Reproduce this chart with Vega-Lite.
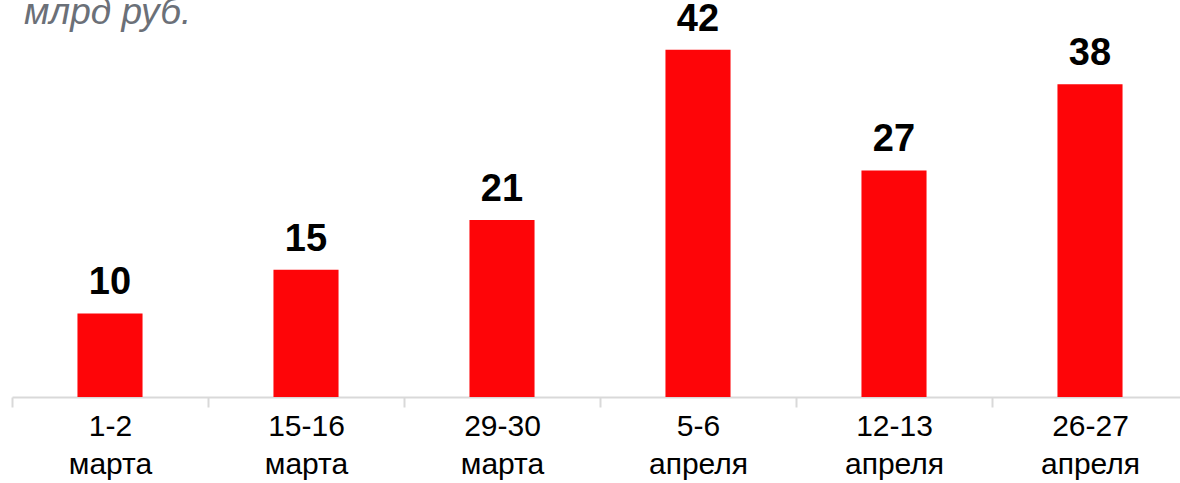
{
  "$schema": "https://vega.github.io/schema/vega-lite/v6.json",
  "width": 1176,
  "height": 397,
  "autosize": {"type": "none"},
  "padding": {"left": 12, "top": 0, "right": 0, "bottom": 86},
  "background": "white",
  "title": {
    "text": "млрд руб.",
    "anchor": "start",
    "frame": "group",
    "orient": "top",
    "baseline": "alphabetic",
    "offset": -61,
    "dx": 12,
    "font": "Liberation Sans",
    "fontSize": 37,
    "fontStyle": "italic",
    "fontWeight": "normal",
    "color": "#6B7078"
  },
  "data": {
    "values": [
      {"period": "1-2 марта", "value": 10.1},
      {"period": "15-16 марта", "value": 15.4},
      {"period": "29-30 марта", "value": 21.4},
      {"period": "5-6 апреля", "value": 42.0},
      {"period": "12-13 апреля", "value": 27.4},
      {"period": "26-27 апреля", "value": 37.8}
    ]
  },
  "config": {
    "view": {"stroke": null},
    "font": "Liberation Sans"
  },
  "encoding": {
    "x": {
      "field": "period",
      "type": "nominal",
      "sort": null,
      "scale": {"paddingInner": 0, "paddingOuter": 0},
      "axis": {
        "title": null,
        "labelAngle": 0,
        "labelExpr": "split(datum.label, ' ')",
        "labelFont": "Liberation Sans",
        "labelFontSize": 30,
        "labelColor": "#000000",
        "labelLineHeight": 38,
        "labelPadding": 4,
        "tickBand": "extent",
        "tickSize": 10,
        "tickColor": "#D9D9D9",
        "tickWidth": 2,
        "domainColor": "#D9D9D9",
        "domainWidth": 2,
        "grid": false
      }
    },
    "y": {
      "field": "value",
      "type": "quantitative",
      "scale": {"domain": [0, 48], "nice": false},
      "axis": null
    }
  },
  "layer": [
    {
      "mark": {"type": "bar", "color": "#FE0508", "width": {"band": 0.332}}
    },
    {
      "mark": {
        "type": "text",
        "baseline": "alphabetic",
        "dy": -19,
        "font": "Liberation Sans",
        "fontSize": 38,
        "fontWeight": "bold",
        "color": "#000000"
      },
      "encoding": {
        "text": {"field": "value", "type": "quantitative", "format": ".0f"}
      }
    }
  ]
}
